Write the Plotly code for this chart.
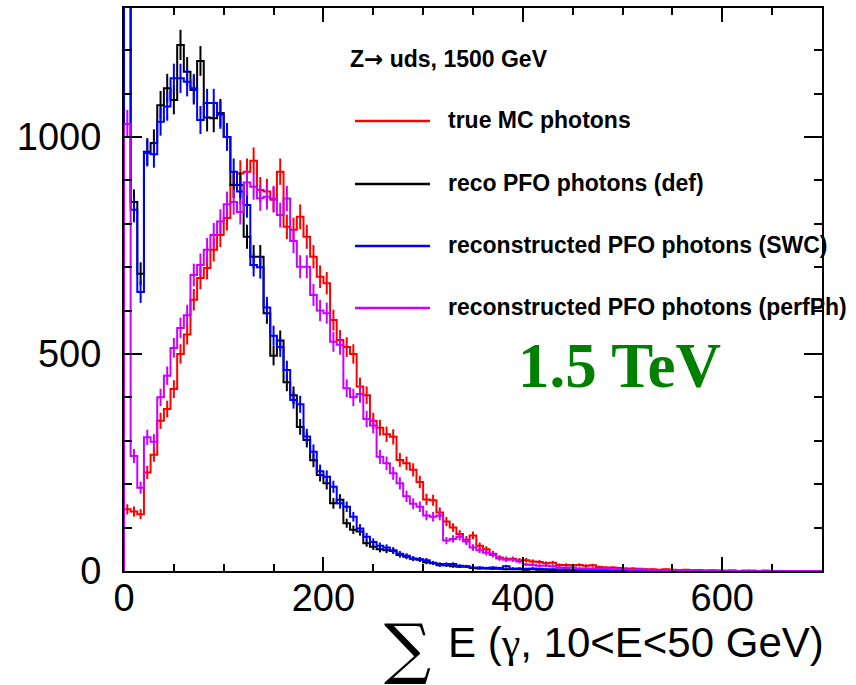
import numpy as np
import plotly.graph_objects as go

# ---------------- data ----------------
# histogram: 105 bins from 0 to 700 GeV (bin width 20/3 GeV)
hist_low, hist_high, n_bins = 0.0, 700.0, 105

true_mc = [142, 137, 131, 227, 268, 346, 373, 419, 500, 545,
           625, 675, 698, 740, 774, 813, 890, 916, 920, 945,
           878, 874, 855, 920, 793, 786, 816, 770, 724, 678,
           663, 578, 532, 516, 500, 425, 405, 346, 330, 315,
           309, 256, 248, 233, 205, 165, 163, 135, 114, 100,
           85, 72, 82, 58, 50, 40, 31, 28, 28, 25,
           25, 22, 21, 18, 19, 14, 14, 13, 14, 12,
           13, 9, 8, 8, 7, 6, 6, 5, 4, 4,
           3, 4, 3, 2, 3, 2, 2, 1, 2, 1,
           1, 1, 0, 1, 0, 0, 1, 0, 0, 0,
           0, 0, 0, 0, 0]

reco_def = [1800, 850, 685, 966, 986, 1073, 1112, 1085, 1212, 1150,
            1108, 1175, 1045, 1043, 1055, 1000, 889, 889, 770, 724,
            724, 594, 496, 531, 435, 405, 332, 302, 255, 221,
            202, 156, 164, 110, 95, 91, 64, 56, 50, 48,
            46, 37, 33, 28, 26, 20, 18, 16, 13, 11,
            10, 10, 7, 6, 6, 5, 5, 4, 4, 4,
            3, 4, 3, 3, 2, 3, 2, 2, 2, 1,
            2, 1, 1, 1, 1, 0, 1, 1, 0, 0,
            1, 0, 0, 0, 0, 0, 0, 0, 0, 0,
            0, 0, 0, 0, 0, 0, 0, 0, 0, 0,
            0, 0, 0, 0, 0]

reco_swc = [2000, 832, 643, 963, 960, 1035, 1070, 1135, 1135, 1127,
            1112, 1039, 1078, 1078, 1051, 1000, 920, 874, 843, 705,
            700, 607, 542, 516, 463, 394, 384, 310, 275, 230,
            217, 194, 156, 148, 125, 98, 79, 67, 58, 54,
            48, 40, 35, 29, 27, 25, 19, 13, 16, 16,
            12, 11, 8, 8, 7, 8, 7, 11, 6, 6,
            5, 6, 5, 4, 4, 3, 4, 3, 3, 2,
            3, 2, 2, 2, 1, 2, 1, 1, 1, 1,
            1, 0, 1, 1, 0, 0, 1, 0, 0, 0,
            0, 0, 0, 0, 0, 0, 0, 0, 0, 0,
            0, 0, 0, 0, 0]

reco_perf = [1030, 265, 192, 308, 298, 400, 450, 514, 560, 589,
             682, 705, 740, 774, 805, 845, 850, 827, 895, 885,
             859, 862, 858, 820, 858, 760, 701, 701, 636, 600,
             594, 528, 521, 421, 400, 408, 350, 335, 263, 248,
             225, 202, 172, 155, 148, 128, 125, 128, 70, 74,
             79, 68, 54, 48, 42, 37, 29, 26, 26, 22,
             15, 14, 12, 12, 11, 8, 8, 8, 6, 6,
             6, 5, 6, 4, 4, 4, 3, 4, 3, 3,
             2, 2, 2, 2, 1, 2, 1, 1, 1, 1,
             0, 1, 0, 0, 1, 0, 0, 0, 0, 0,
             0, 0, 0, 0, 0]

series_names = ["true MC photons", "reco PFO photons (def)",
                "reconstructed PFO photons (SWC)", "reconstructed PFO photons (perfPh)"]
series_values = [true_mc, reco_def, reco_swc, reco_perf]
series_colors = ["#FF0000", "#000000", "#0000FF", "#CC00FF"]

x_ticks = [0, 200, 400, 600]
y_ticks = [0, 500, 1000]

title_text = 'Z<span style="font-family:DejaVu Sans">\u2192</span> uds, 1500 GeV'
energy_text = "1.5 TeV"
xaxis_title = 'E (<span style="font-family:Liberation Serif">\u03b3</span>, 10<E<50 GeV)'

# ---------------- figure ----------------
edges = np.linspace(hist_low, hist_high, n_bins + 1)
centers = 0.5 * (edges[:-1] + edges[1:])

fig = go.Figure()
for name, vals, col in zip(series_names, series_values, series_colors):
    v = np.asarray(vals, dtype=float)
    nb = len(v)
    e = edges[: nb + 1]
    xs = np.concatenate([[e[0]], e])
    ys = np.concatenate([[0.0], v, [v[-1]]])
    fig.add_trace(go.Scatter(x=xs, y=ys, mode="lines", line=dict(color=col, width=2, shape="hv"),
                             showlegend=False, hoverinfo="skip"))
    fig.add_trace(go.Scatter(x=centers[:nb], y=v, mode="markers",
                             marker=dict(size=1, color=col),
                             error_y=dict(type="data", array=np.sqrt(v), width=0, thickness=2, color=col),
                             showlegend=False, hoverinfo="skip"))

font_sans = "Liberation Sans, Arial, Helvetica, sans-serif"

W, H = 856, 685
L, R, T, B = 124, 34, 8, 114

fig.update_layout(
    width=W, height=H,
    margin=dict(l=L, r=R, t=T, b=B, autoexpand=False),
    paper_bgcolor="white", plot_bgcolor="white",
    showlegend=False,
    font=dict(family=font_sans, color="black"),
)
fig.update_xaxes(
    range=[hist_low, hist_high], tickvals=x_ticks, ticktext=[str(t) for t in x_ticks],
    ticks="inside", ticklen=14, tickwidth=2, tickcolor="black",
    minor=dict(dtick=50, ticks="inside", ticklen=7, tickwidth=2, tickcolor="black"),
    showline=True, linecolor="black", linewidth=2, mirror="ticks",
    showgrid=False, zeroline=False,
    tickfont=dict(size=38, family=font_sans), ticklabelstandoff=-8,
)
fig.update_yaxes(
    range=[0, 1297], tickvals=y_ticks, ticktext=[str(t) for t in y_ticks],
    ticks="inside", ticklen=18, tickwidth=2, tickcolor="black",
    minor=dict(dtick=100, ticks="inside", ticklen=8, tickwidth=2, tickcolor="black"),
    showline=True, linecolor="black", linewidth=2, mirror="ticks",
    showgrid=False, zeroline=False,
    tickfont=dict(size=38, family=font_sans), ticklabelstandoff=13,
)

# header text
fig.add_annotation(x=348, y=59, xref="paper", yref="paper", text="<b>%s</b>" % title_text,
                   showarrow=False, xanchor="left", yanchor="middle",
                   font=dict(size=23, family=font_sans, color="black"))

# legend (lines + labels)
legend_y = [121, 184, 246, 308]
for name, col, ly in zip(series_names, series_colors, legend_y):
    fig.add_shape(type="line", xref="paper", yref="paper",
                  x0=355, x1=430, y0=ly, y1=ly, line=dict(color=col, width=2.5))
    fig.add_annotation(x=446, y=ly - 1, xref="paper", yref="paper", text="<b>%s</b>" % name,
                       showarrow=False, xanchor="left", yanchor="middle",
                       font=dict(size=23, family=font_sans, color="black"))

# big green energy label
fig.add_annotation(x=619, y=366, xref="paper", yref="paper", text="<b>%s</b>" % energy_text,
                   showarrow=False, xanchor="center", yanchor="middle",
                   font=dict(size=63, family="Liberation Serif, Times New Roman, serif", color="#008000"))

# x-axis title: sum sign + text
fig.add_annotation(x=407, y=649, xref="paper", yref="paper", text="\u2211",
                   showarrow=False, xanchor="center", yanchor="middle",
                   font=dict(size=66, family="DejaVu Serif, serif", color="black"))
fig.add_annotation(x=826, y=642, xref="paper", yref="paper", text=xaxis_title,
                   showarrow=False, xanchor="right", yanchor="middle",
                   font=dict(size=42, family=font_sans, color="black"))

# convert pixel-based positions to paper fractions
pw, ph = W - L - R, H - T - B
for a in fig.layout.annotations:
    a.x = (a.x - L) / pw
    a.y = 1 - (a.y - T) / ph
for s in fig.layout.shapes:
    s.x0 = (s.x0 - L) / pw
    s.x1 = (s.x1 - L) / pw
    s.y0 = 1 - (s.y0 - T) / ph
    s.y1 = 1 - (s.y1 - T) / ph

fig.write_html("out.html", config={"displayModeBar": False},
               post_script="document.body.style.margin='0';document.body.style.overflow='hidden';")
